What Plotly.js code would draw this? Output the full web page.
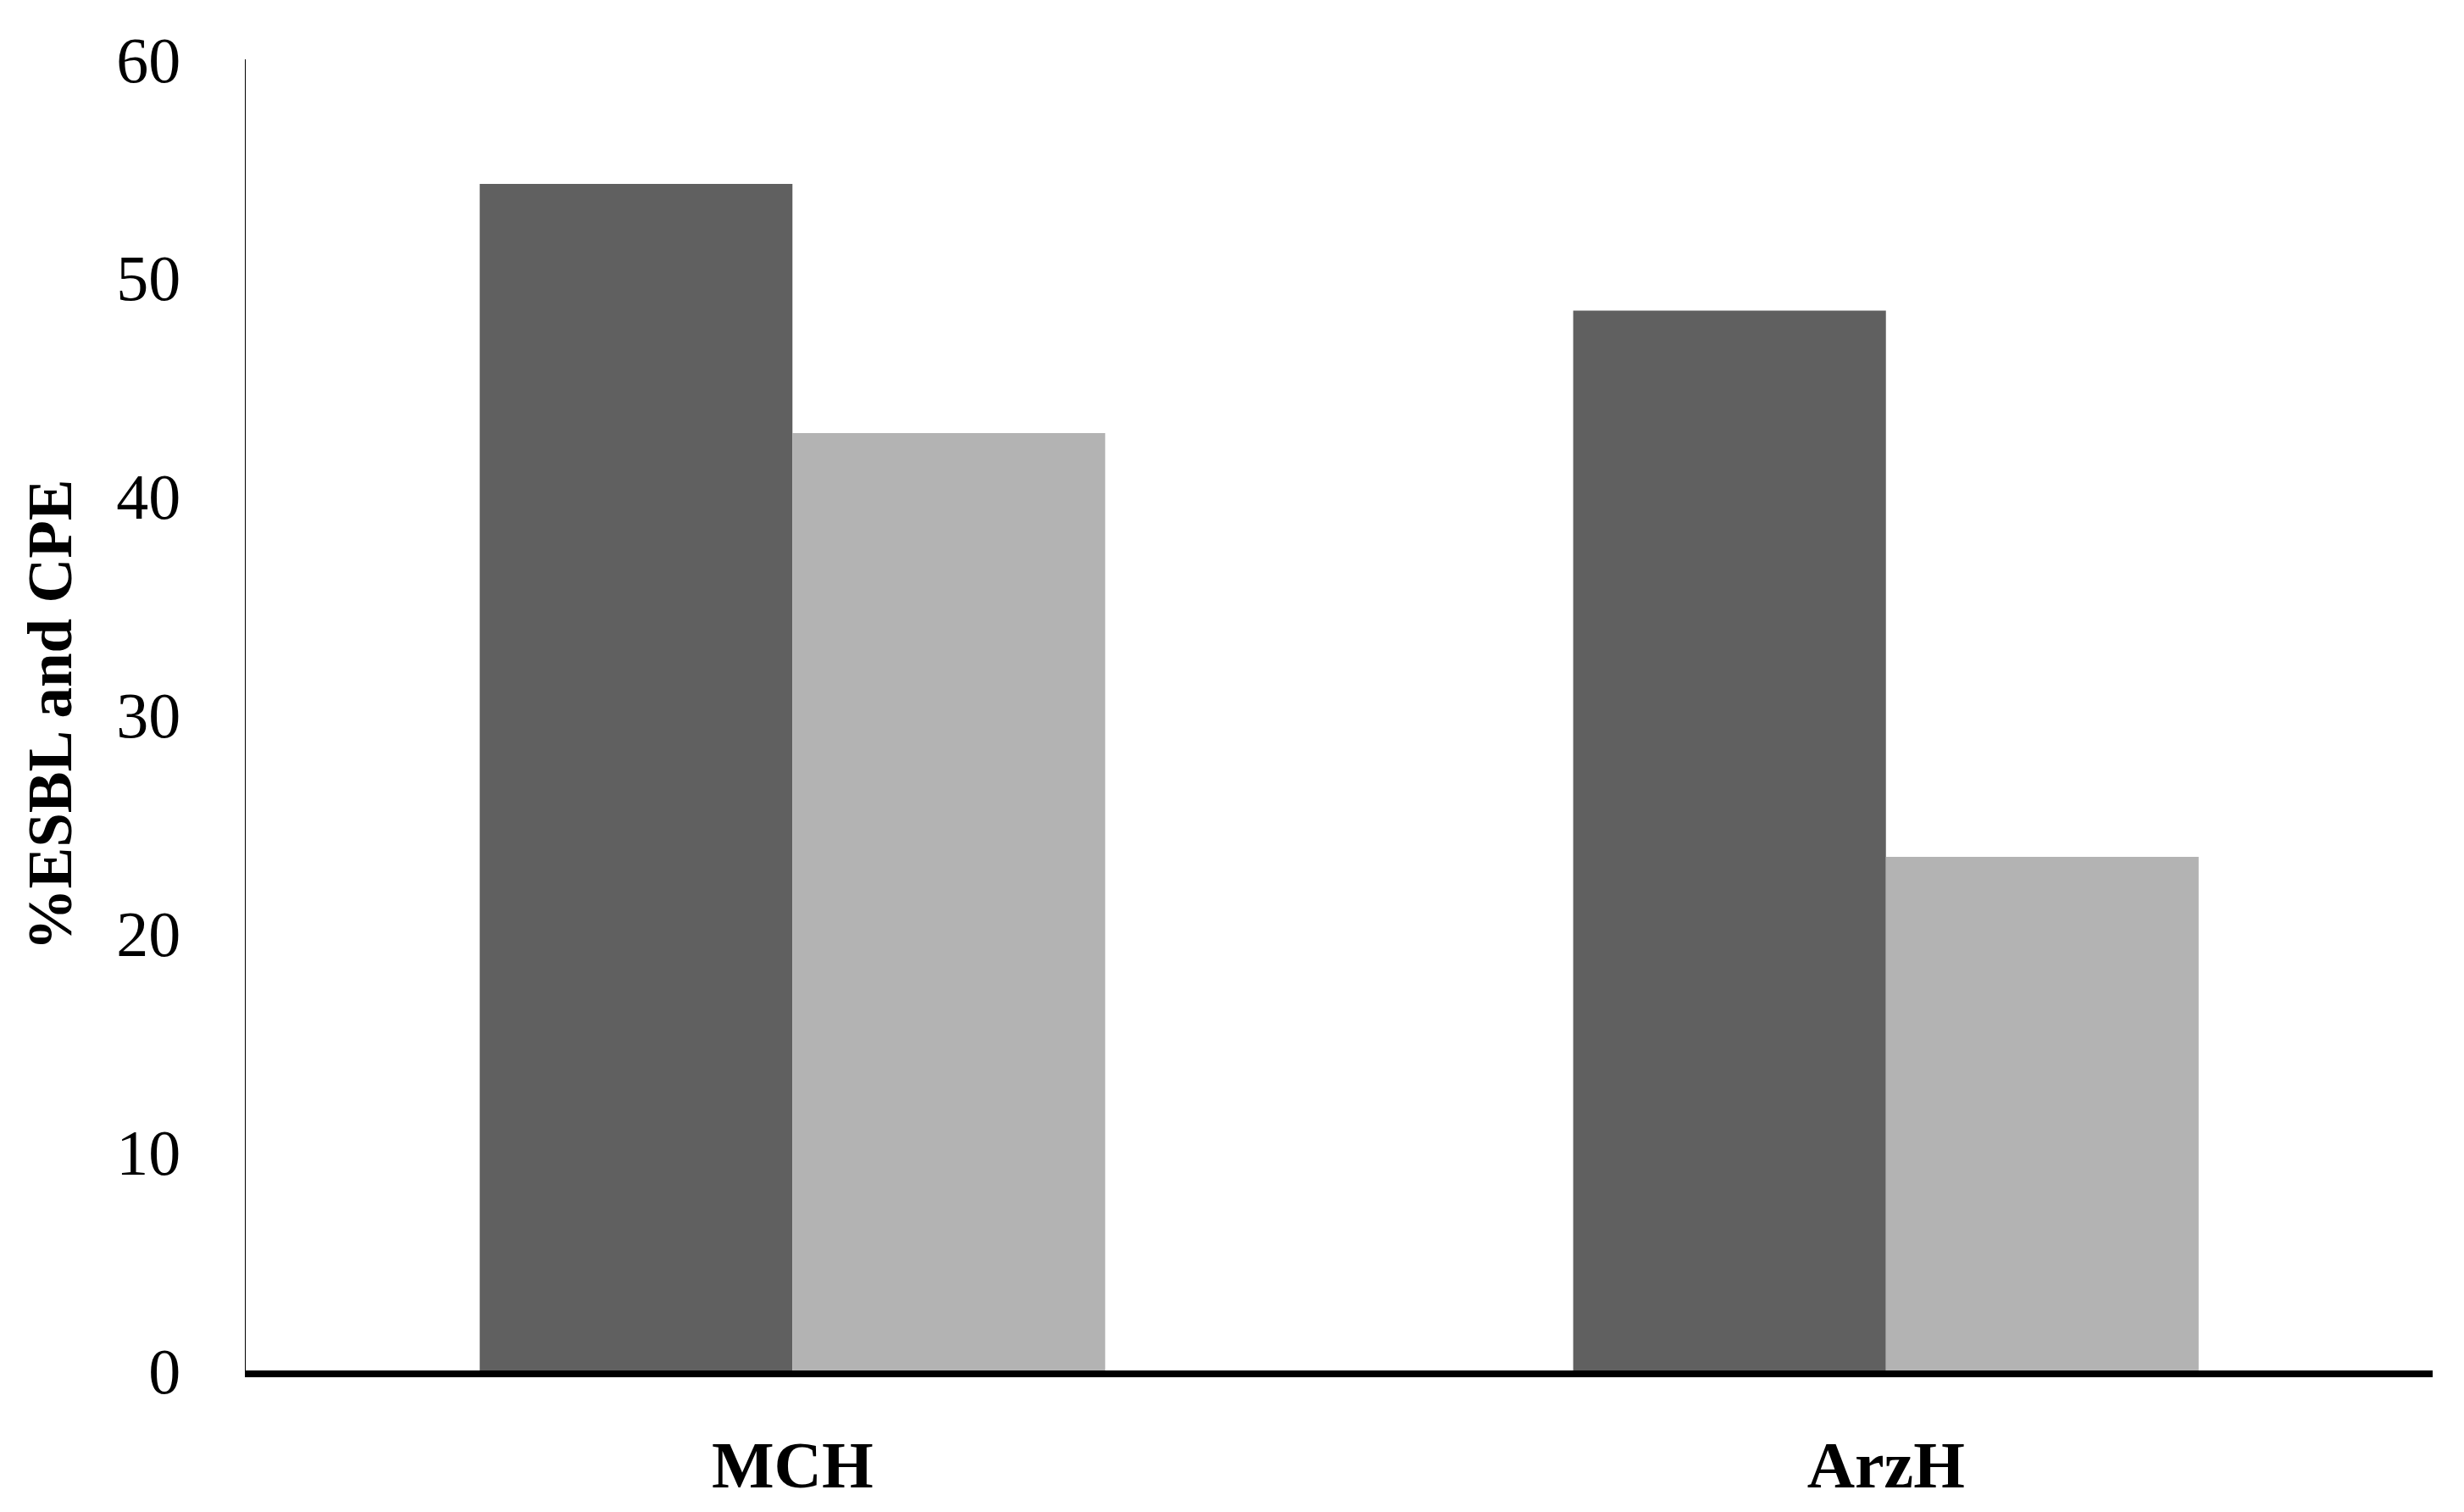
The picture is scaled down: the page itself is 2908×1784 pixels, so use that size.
<!DOCTYPE html>
<html>
<head>
<meta charset="utf-8">
<script src="https://cdn.plot.ly/plotly-3.0.1.min.js"></script>
<style>html,body{margin:0;padding:0;background:#fff;}#chart{width:2908px;height:1784px;}</style>
</head>
<body>
<div id="chart"></div>
<script>
const categories = ["MCH", "ArzH"];
const esblValues = [54.3, 48.5];
const cpeValues = [42.9, 23.5];
const yTickValues = [0, 10, 20, 30, 40, 50, 60];
const yTitle = "%ESBL and CPE";

const serif = "Liberation Serif, Times New Roman, serif";

const traces = [
  {type: "bar", name: "ESBL", x: categories, y: esblValues, marker: {color: "#606060", line: {width: 0}}, showlegend: false},
  {type: "bar", name: "CPE", x: categories, y: cpeValues, marker: {color: "#b3b3b3", line: {width: 0}}, showlegend: false}
];

const layout = {
  width: 2908, height: 1784,
  paper_bgcolor: "#fff", plot_bgcolor: "#fff",
  margin: {l: 290, r: 37, t: 70, b: 167},
  barmode: "group", bargap: 0.428, bargroupgap: 0,
  xaxis: {
    showline: true, linecolor: "#000", linewidth: 8,
    showgrid: false, zeroline: false, ticks: "",
    tickfont: {family: serif, size: 78, color: "#000", weight: "bold"},
    ticklabelstandoff: 36
  },
  yaxis: {
    range: [0, 60], tickvals: yTickValues, showline: true, linecolor: "#000", linewidth: 1.5,
    showgrid: false, zeroline: false, ticks: "",
    tickfont: {family: serif, size: 76, color: "#000"},
    ticklabelstandoff: 60,
    title: {text: yTitle, font: {family: serif, size: 73, color: "#000", weight: "bold"}, standoff: 28}
  }
};

Plotly.newPlot("chart", traces, layout, {displayModeBar: false, staticPlot: true});
</script>
</body>
</html>
